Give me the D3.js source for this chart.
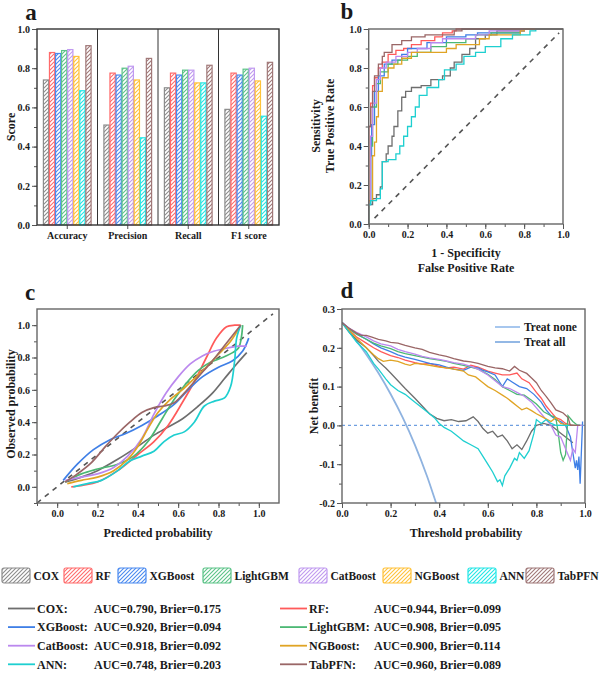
<!DOCTYPE html>
<html>
<head>
<meta charset="utf-8">
<script src="https://cdn.jsdelivr.net/npm/d3@7"></script>
<style>
  body { margin: 0; background: #fff; }
  text { font-family: "Liberation Serif", "Times New Roman", serif; font-weight: bold; fill: #1a1a1a; }
</style>
</head>
<body>
<script>
// ---- data ----
const models = ["COX", "RF", "XGBoost", "LightGBM", "CatBoost", "NGBoost", "ANN", "TabPFN"];
const lineColors = ["#6e6e6e", "#ff5a5a", "#3f7fe6", "#4cb874", "#bb88ee", "#e0a424", "#1ecfd0", "#9a6666"];
const barColors = ["#8c8c8c", "#ff6b6b", "#4a8af0", "#5cc388", "#c09af0", "#ffc23a", "#22e6e6", "#a07878"];

const metrics = ["Accuracy", "Precision", "Recall", "F1 score"];
// one row per model: Accuracy, Precision, Recall, F1
const barValues = [
  [0.74, 0.51, 0.70, 0.59],
  [0.88, 0.775, 0.775, 0.775],
  [0.875, 0.765, 0.765, 0.765],
  [0.89, 0.80, 0.79, 0.795],
  [0.895, 0.81, 0.79, 0.80],
  [0.86, 0.74, 0.725, 0.735],
  [0.685, 0.445, 0.725, 0.555],
  [0.915, 0.85, 0.815, 0.83]
];
const scoreTicks = [0, 0.2, 0.4, 0.6, 0.8, 1.0];

const aucValues = ["0.790", "0.944", "0.920", "0.908", "0.918", "0.900", "0.748", "0.960"];
const brierValues = ["0.175", "0.099", "0.094", "0.095", "0.092", "0.114", "0.203", "0.089"];

// ROC points [FPR, TPR]
const rocPoints = [
  [[0,0],[0,0.1],[0.02,0.13],[0.04,0.15],[0.06,0.19],[0.07,0.32],[0.09,0.36],[0.1,0.4],[0.12,0.45],[0.13,0.5],[0.15,0.58],[0.17,0.65],[0.19,0.68],[0.22,0.7],[0.27,0.71],[0.32,0.74],[0.38,0.76],[0.42,0.8],[0.44,0.83],[0.48,0.87],[0.52,0.9],[0.55,0.95],[0.6,0.97],[0.66,0.99],[0.8,1]],
  [[0,0],[0,0.5],[0.01,0.62],[0.02,0.71],[0.03,0.75],[0.05,0.8],[0.07,0.83],[0.1,0.87],[0.14,0.89],[0.18,0.9],[0.22,0.92],[0.27,0.94],[0.34,0.96],[0.38,0.98],[0.43,0.99],[0.45,1]],
  [[0,0],[0,0.1],[0.01,0.35],[0.015,0.51],[0.03,0.68],[0.05,0.76],[0.08,0.82],[0.12,0.84],[0.17,0.87],[0.2,0.9],[0.3,0.93],[0.4,0.96],[0.5,0.97],[0.56,0.98],[0.78,0.99],[0.8,1]],
  [[0,0],[0,0.12],[0.01,0.4],[0.02,0.6],[0.04,0.72],[0.06,0.78],[0.1,0.82],[0.15,0.84],[0.2,0.86],[0.25,0.88],[0.32,0.91],[0.4,0.93],[0.5,0.95],[0.55,0.97],[0.63,0.98],[0.78,0.99],[0.8,1]],
  [[0,0],[0,0.12],[0.01,0.45],[0.02,0.62],[0.04,0.74],[0.06,0.8],[0.09,0.83],[0.14,0.86],[0.2,0.88],[0.25,0.9],[0.32,0.93],[0.38,0.95],[0.55,0.97],[0.62,0.99],[0.8,1]],
  [[0,0],[0,0.12],[0.02,0.35],[0.03,0.42],[0.04,0.55],[0.05,0.68],[0.07,0.75],[0.1,0.8],[0.13,0.82],[0.17,0.85],[0.22,0.88],[0.4,0.9],[0.45,0.92],[0.57,0.95],[0.62,0.97],[0.78,0.99],[0.8,1]],
  [[0,0],[0,0.1],[0.01,0.12],[0.04,0.13],[0.06,0.18],[0.07,0.32],[0.1,0.33],[0.14,0.36],[0.16,0.4],[0.18,0.45],[0.2,0.5],[0.22,0.55],[0.24,0.6],[0.26,0.66],[0.3,0.7],[0.36,0.74],[0.39,0.79],[0.45,0.82],[0.49,0.86],[0.55,0.88],[0.6,0.91],[0.68,0.95],[0.74,0.97],[0.83,0.99],[0.86,1]],
  [[0,0],[0,0.5],[0.01,0.6],[0.02,0.68],[0.03,0.76],[0.05,0.82],[0.07,0.86],[0.08,0.88],[0.12,0.92],[0.17,0.94],[0.22,0.96],[0.29,0.97],[0.44,0.99],[0.48,1]]
];
const rocTicks = [0, 0.2, 0.4, 0.6, 0.8, 1.0];

// calibration points [predicted, observed]
const calPoints = [
  [[0.04,0.03],[0.12,0.06],[0.2,0.1],[0.3,0.17],[0.4,0.25],[0.48,0.32],[0.55,0.37],[0.62,0.42],[0.7,0.5],[0.77,0.58],[0.83,0.67],[0.89,0.76],[0.94,0.83]],
  [[0.07,0],[0.13,0.01],[0.2,0.03],[0.3,0.1],[0.4,0.2],[0.48,0.28],[0.55,0.38],[0.62,0.52],[0.68,0.65],[0.74,0.8],[0.79,0.92],[0.84,0.99],[0.88,1.0],[0.91,1.0]],
  [[0.03,0.04],[0.1,0.14],[0.18,0.23],[0.26,0.29],[0.34,0.33],[0.42,0.38],[0.5,0.44],[0.58,0.51],[0.65,0.6],[0.72,0.68],[0.8,0.74],[0.87,0.78],[0.92,0.84],[0.95,0.92]],
  [[0.04,0.03],[0.12,0.08],[0.2,0.11],[0.3,0.14],[0.38,0.19],[0.45,0.28],[0.52,0.42],[0.58,0.54],[0.64,0.64],[0.7,0.72],[0.76,0.77],[0.82,0.8],[0.87,0.83],[0.9,0.86],[0.92,1.0]],
  [[0.04,0.04],[0.12,0.06],[0.2,0.08],[0.28,0.12],[0.35,0.19],[0.42,0.3],[0.48,0.45],[0.54,0.58],[0.6,0.68],[0.66,0.76],[0.72,0.81],[0.78,0.84],[0.85,0.86],[0.9,0.87],[0.94,0.87]],
  [[0.05,0.02],[0.12,0.04],[0.2,0.06],[0.28,0.1],[0.35,0.17],[0.4,0.25],[0.45,0.36],[0.5,0.46],[0.56,0.54],[0.62,0.6],[0.68,0.67],[0.74,0.74],[0.8,0.82],[0.86,0.9],[0.91,1.0]],
  [[0.08,0],[0.15,0.02],[0.22,0.04],[0.3,0.1],[0.36,0.16],[0.42,0.19],[0.48,0.22],[0.53,0.28],[0.58,0.32],[0.63,0.34],[0.68,0.4],[0.73,0.5],[0.78,0.53],[0.83,0.55],[0.86,0.62],[0.88,0.78],[0.89,0.92],[0.91,1.0]],
  [[0.04,0.03],[0.1,0.08],[0.17,0.15],[0.24,0.25],[0.3,0.33],[0.36,0.4],[0.42,0.46],[0.48,0.49],[0.53,0.5],[0.58,0.52],[0.63,0.58],[0.7,0.68],[0.77,0.78],[0.84,0.89],[0.91,1.0]]
];
const calTicks = [0, 0.2, 0.4, 0.6, 0.8, 1.0];

// decision curve points [threshold, net benefit]
const dcaPoints = [
  [[0,.265],[.03,.24],[.06,.22],[.1,.2],[.13,.18],[.15,.165],[.18,.148],[.2,.135],[.23,.115],[.26,.095],[.3,.07],[.33,.05],[.36,.03],[.39,.018],[.42,.012],[.45,.015],[.48,.01],[.51,.012],[.54,.022],[.56,.01],[.58,-.008],[.6,-.02],[.62,-.015],[.64,-.03],[.66,-.025],[.68,-.04],[.7,-.06],[.72,-.05],[.74,-.062],[.76,-.04],[.78,-.015],[.8,0],[.83,.005],[.86,0],[.88,-.01],[.9,-.02],[.92,-.03],[.95,-.045]],
  [[0,.265],[.03,.245],[.06,.228],[.1,.212],[.13,.2],[.16,.19],[.2,.18],[.23,.175],[.26,.168],[.3,.162],[.33,.158],[.36,.16],[.4,.152],[.43,.148],[.46,.15],[.5,.145],[.53,.155],[.56,.15],[.6,.14],[.63,.135],[.66,.13],[.69,.13],[.72,.135],[.74,.12],[.77,.11],[.8,.085],[.82,.07],[.84,.05],[.86,.035],[.88,.02],[.9,.015],[.92,.005],[.95,0],[.98,0]],
  [[0,.265],[.03,.25],[.06,.236],[.1,.222],[.13,.21],[.16,.2],[.2,.19],[.23,.182],[.26,.176],[.3,.17],[.33,.165],[.36,.16],[.4,.156],[.43,.15],[.46,.145],[.5,.142],[.53,.15],[.56,.148],[.58,.142],[.6,.138],[.63,.13],[.66,.1],[.68,.12],[.7,.112],[.73,.1],[.76,.095],[.79,.08],[.82,.06],[.84,.04],[.86,.025],[.88,.015],[.9,.01],[.92,0],[.94,-.03],[.95,-.07],[.96,-.11],[.965,-.09],[.97,-.115],[.975,-.08],[.98,-.15],[.99,.01]],
  [[0,.265],[.03,.248],[.06,.235],[.1,.222],[.13,.212],[.16,.205],[.2,.198],[.23,.19],[.26,.185],[.3,.18],[.33,.176],[.36,.172],[.4,.168],[.43,.165],[.46,.16],[.5,.155],[.53,.15],[.56,.145],[.6,.132],[.63,.118],[.66,.1],[.69,.09],[.72,.08],[.75,.078],[.78,.065],[.8,.055],[.83,.035],[.86,.025],[.88,.02],[.89,-.02],[.9,-.07],[.91,-.09],[.92,-.075],[.93,.025],[.95,.01],[.97,0],[.99,0]],
  [[0,.265],[.03,.25],[.06,.24],[.1,.228],[.13,.218],[.16,.21],[.2,.205],[.23,.196],[.26,.19],[.3,.184],[.33,.178],[.36,.174],[.4,.17],[.43,.166],[.46,.162],[.5,.158],[.53,.152],[.56,.145],[.6,.13],[.63,.115],[.66,.1],[.69,.095],[.72,.085],[.75,.075],[.78,.06],[.8,.045],[.82,.03],[.84,.015],[.86,0],[.88,-.025],[.9,-.03],[.92,-.06],[.94,-.09],[.95,-.06],[.96,-.07],[.97,0],[.99,0]],
  [[0,.265],[.03,.245],[.06,.225],[.1,.2],[.13,.182],[.15,.172],[.17,.165],[.2,.168],[.23,.165],[.26,.158],[.28,.155],[.3,.16],[.33,.158],[.36,.155],[.4,.15],[.43,.148],[.46,.145],[.5,.14],[.52,.13],[.55,.125],[.58,.11],[.6,.1],[.63,.09],[.66,.078],[.68,.07],[.7,.06],[.72,.05],[.74,.04],[.76,.045],[.78,.038],[.8,.03],[.83,.02],[.86,.01],[.88,.02],[.9,.005],[.93,0],[.97,0]],
  [[0,.265],[.03,.24],[.06,.215],[.1,.19],[.13,.16],[.15,.145],[.18,.12],[.2,.105],[.23,.09],[.26,.08],[.29,.065],[.32,.05],[.35,.035],[.38,.02],[.4,.005],[.42,-.005],[.45,-.015],[.48,-.03],[.5,-.04],[.53,-.05],[.56,-.06],[.58,-.08],[.6,-.1],[.62,-.12],[.64,-.145],[.65,-.14],[.66,-.155],[.67,-.13],[.69,-.11],[.71,-.085],[.72,-.09],[.73,-.07],[.75,-.085],[.77,-.065],[.79,-.02],[.8,.015],[.82,.005],[.84,.015],[.86,.005],[.88,0],[.92,0],[.98,0]],
  [[0,.265],[.03,.25],[.06,.238],[.08,.232],[.1,.232],[.12,.228],[.15,.222],[.18,.218],[.2,.214],[.23,.212],[.26,.206],[.3,.2],[.33,.196],[.36,.188],[.4,.182],[.43,.178],[.46,.172],[.5,.166],[.53,.164],[.56,.16],[.6,.152],[.63,.148],[.66,.146],[.69,.14],[.71,.152],[.73,.142],[.76,.134],[.78,.122],[.8,.11],[.82,.09],[.84,.075],[.86,.058],[.88,.04],[.9,.035],[.91,.032],[.93,.02],[.94,0],[.98,0]]
];
const treatAll = [[0,.265],[.05,.226],[.1,.183],[.15,.135],[.2,.081],[.25,.02],[.3,-.05],[.35,-.131],[.39,-.205],[.42,-.26]];
const treatNone = [[0,0],[1,0]];
const dcaXTicks = [0, 0.2, 0.4, 0.6, 0.8, 1.0];
const dcaYTicks = [-0.2, -0.1, 0, 0.1, 0.2, 0.3];

// ---- svg ----
const width = 606, height = 673;
const svg = d3.select("body").append("svg")
  .attr("width", width)
  .attr("height", height);

const fmt = d => d.toFixed(1);
const defs = svg.append("defs");

// hatch patterns for bars
barColors.forEach((c, i) => {
  const p = defs.append("pattern")
    .attr("id", "hatch" + i)
    .attr("patternUnits", "userSpaceOnUse")
    .attr("width", 4).attr("height", 4);
  p.append("rect").attr("width", 4).attr("height", 4).attr("fill", "#fff");
  p.append("path")
    .attr("d", "M-1,1 l2,-2 M0,4 l4,-4 M3,5 l2,-2")
    .attr("stroke", c).attr("stroke-width", 1.1);
});

// major + minor ticks, no domain line (frame drawn separately)
function addAxis(axisFn, scale, pos, major, minor) {
  if (minor) {
    svg.append("g").attr("transform", pos)
      .call(axisFn(scale).tickValues(minor).tickSize(3).tickFormat(""))
      .call(g => g.select(".domain").remove())
      .call(g => g.selectAll("line").attr("stroke", "#555"));
  }
  const g = svg.append("g").attr("transform", pos)
    .call(axisFn(scale).tickValues(major).tickSize(5).tickPadding(2).tickFormat(fmt))
    .call(g => g.select(".domain").remove());
  g.selectAll("line").attr("stroke", "#555");
  g.selectAll("text").attr("font-size", 10).attr("font-family", null).attr("fill", "#1a1a1a");
  return g;
}

function frame(x0, y0, x1, y1, col) {
  svg.append("rect")
    .attr("x", x0).attr("y", y0)
    .attr("width", x1 - x0).attr("height", y1 - y0)
    .attr("fill", "none").attr("stroke", col).attr("stroke-width", 1.4);
}

function label(txt, x, y, size, rot) {
  const t = svg.append("text").attr("font-size", size).attr("text-anchor", "middle").text(txt);
  if (rot) t.attr("transform", `translate(${x},${y})rotate(-90)`);
  else t.attr("x", x).attr("y", y);
  return t;
}

function clip(id, x0, y0, x1, y1) {
  defs.append("clipPath").attr("id", id).append("rect")
    .attr("x", x0).attr("y", y0).attr("width", x1 - x0).attr("height", y1 - y0);
}

const minorTen = d3.range(0, 11).map(d => d / 10);

// ---------------- panel a: bars ----------------
const aX = d3.scaleBand().domain(metrics).range([37, 279]);
const aY = d3.scaleLinear().domain([0, 1]).range([225, 29]);
const inner = d3.scaleBand().domain(models).range([6, aX.bandwidth() - 6]);

models.forEach((m, i) => {
  svg.append("g").selectAll("rect")
    .data(barValues[i])
    .enter()
    .append("rect")
    .attr("x", (d, j) => aX(metrics[j]) + inner(m) + 0.4)
    .attr("y", d => aY(d))
    .attr("width", inner.bandwidth() - 0.8)
    .attr("height", d => aY(0) - aY(d))
    .attr("fill", `url(#hatch${i})`)
    .attr("stroke", barColors[i])
    .attr("stroke-width", 1.2);
});

// group dividers
svg.append("g").selectAll("line")
  .data(metrics.slice(1))
  .enter()
  .append("line")
  .attr("x1", d => aX(d)).attr("x2", d => aX(d))
  .attr("y1", 29).attr("y2", 225)
  .attr("stroke", "#333").attr("stroke-width", 1);

addAxis(d3.axisLeft, aY, "translate(37,0)", scoreTicks, minorTen);
const aAxisX = svg.append("g").attr("transform", "translate(0,225)")
  .call(d3.axisBottom(aX).tickSize(4).tickPadding(3))
  .call(g => g.select(".domain").remove());
aAxisX.selectAll("line").attr("stroke", "#555");
aAxisX.selectAll("text").attr("font-size", 10).attr("font-family", null).attr("fill", "#1a1a1a");
frame(37, 29, 279, 225, "#333");
label("Score", 15, 127, 12, true);
label("a", 31, 20, 23);

// ---------------- panel b: ROC ----------------
const bX = d3.scaleLinear().domain([0, 1]).range([368.7, 563]);
const bY = d3.scaleLinear().domain([0, 1]).range([224, 29]);

svg.append("line")
  .attr("x1", bX(0.03)).attr("y1", bY(0.03))
  .attr("x2", bX(0.98)).attr("y2", bY(0.98))
  .attr("stroke", "#555").attr("stroke-width", 1.6)
  .attr("stroke-dasharray", "5,5");

const rocLine = d3.line().x(d => bX(d[0])).y(d => bY(d[1])).curve(d3.curveStepAfter);
rocPoints.forEach((pts, i) => {
  svg.append("path")
    .datum(pts.concat([[1, 1]]))
    .attr("d", rocLine)
    .attr("fill", "none")
    .attr("stroke", lineColors[i])
    .attr("stroke-width", 1.3);
});

addAxis(d3.axisLeft, bY, "translate(368.7,0)", rocTicks, minorTen);
addAxis(d3.axisBottom, bX, "translate(0,224)", rocTicks, minorTen);
frame(368.7, 29, 563, 224, "#666");
label("1 - Specificity", 466, 257, 12);
label("False Positive Rate", 466, 272, 12);
label("Sensitivity", 320, 126, 12, true);
label("True Positive Rate", 334, 126, 12, true);
label("b", 347, 19, 23);

// ---------------- panel c: calibration ----------------
const cX = d3.scaleLinear().domain([-0.1, 1.1]).range([37, 279]);
const cY = d3.scaleLinear().domain([-0.1, 1.1]).range([503, 309]);
clip("clipC", 37, 309, 279, 503);

svg.append("line")
  .attr("x1", cX(-0.1)).attr("y1", cY(-0.1))
  .attr("x2", cX(1.07)).attr("y2", cY(1.07))
  .attr("stroke", "#555").attr("stroke-width", 1.6)
  .attr("stroke-dasharray", "5,5");

const calLine = d3.line().x(d => cX(d[0])).y(d => cY(d[1])).curve(d3.curveCatmullRom.alpha(0.5));
calPoints.forEach((pts, i) => {
  svg.append("path")
    .datum(pts)
    .attr("d", calLine)
    .attr("clip-path", "url(#clipC)")
    .attr("fill", "none")
    .attr("stroke", lineColors[i])
    .attr("stroke-width", 1.7);
});

addAxis(d3.axisLeft, cY, "translate(37,0)", calTicks, d3.range(-1, 11).map(d => d / 10));
addAxis(d3.axisBottom, cX, "translate(0,503)", calTicks, d3.range(-1, 11).map(d => d / 10));
frame(37, 309, 279, 503, "#666");
label("Predicted probability", 158, 537, 12);
label("Observed probability", 15, 404, 12, true);
label("c", 30, 300, 23);

// ---------------- panel d: decision curves ----------------
const dX = d3.scaleLinear().domain([0, 1]).range([342, 585]);
const dY = d3.scaleLinear().domain([-0.2, 0.3]).range([503, 309]);
clip("clipD", 342, 309, 585, 503);

const dcaLine = d3.line().x(d => dX(d[0])).y(d => dY(d[1]));

svg.append("path")
  .datum(treatNone)
  .attr("d", dcaLine)
  .attr("fill", "none")
  .attr("stroke", "#6f9fe0").attr("stroke-width", 1.2)
  .attr("stroke-dasharray", "3,3");

svg.append("path")
  .datum(treatAll)
  .attr("d", d3.line().x(d => dX(d[0])).y(d => dY(d[1])).curve(d3.curveMonotoneX))
  .attr("clip-path", "url(#clipD)")
  .attr("fill", "none")
  .attr("stroke", "#8fb3e0").attr("stroke-width", 1.8);

dcaPoints.forEach((pts, i) => {
  svg.append("path")
    .datum(pts)
    .attr("d", dcaLine)
    .attr("clip-path", "url(#clipD)")
    .attr("fill", "none")
    .attr("stroke", lineColors[i])
    .attr("stroke-width", 1.3);
});

addAxis(d3.axisLeft, dY, "translate(342,0)", dcaYTicks, d3.range(-4, 7).map(d => d / 20));
addAxis(d3.axisBottom, dX, "translate(0,503)", dcaXTicks, minorTen);
frame(342, 309, 585, 503, "#666");
label("Threshold probability", 466, 537, 12);
label("Net benefit", 318, 406, 12, true);
label("d", 347, 298, 23);

// treat none / treat all legend
const refNames = ["Treat none", "Treat all"];
const refColors = ["#8ab4e8", "#6fa0dc"];
refNames.forEach((n, i) => {
  svg.append("line")
    .attr("x1", 495).attr("x2", 520)
    .attr("y1", 327 + i * 15).attr("y2", 327 + i * 15)
    .attr("stroke", refColors[i]).attr("stroke-width", 1.5);
  svg.append("text")
    .attr("x", 524).attr("y", 331 + i * 15)
    .attr("font-size", 11.5)
    .text(n);
});

// ---------------- bar legend ----------------
const swatchX = [2, 64, 118, 203, 299, 383, 468, 526];
models.forEach((m, i) => {
  svg.append("rect")
    .attr("x", swatchX[i]).attr("y", 568)
    .attr("width", 28).attr("height", 15)
    .attr("rx", 2)
    .attr("fill", `url(#hatch${i})`)
    .attr("stroke", barColors[i]).attr("stroke-width", 1.2);
  svg.append("text")
    .attr("x", swatchX[i] + 31.5).attr("y", 580)
    .attr("font-size", 11.5)
    .text(m);
});

// ---------------- line legend with AUC / Brier ----------------
models.forEach((m, i) => {
  const col = i % 2, row = Math.floor(i / 2);
  const lx = col === 0 ? 8 : 280;
  const ax = col === 0 ? 94 : 374;
  const y = 608.5 + row * 18.6;
  svg.append("line")
    .attr("x1", lx).attr("x2", lx + 27)
    .attr("y1", y).attr("y2", y)
    .attr("stroke", lineColors[i]).attr("stroke-width", 1.8);
  svg.append("text")
    .attr("x", lx + 29).attr("y", y + 4.2)
    .attr("font-size", 12)
    .text(m + ":");
  svg.append("text")
    .attr("x", ax).attr("y", y + 4.2)
    .attr("font-size", 12)
    .text(`AUC=${aucValues[i]}, Brier=${brierValues[i]}`);
});
</script>
</body>
</html>
